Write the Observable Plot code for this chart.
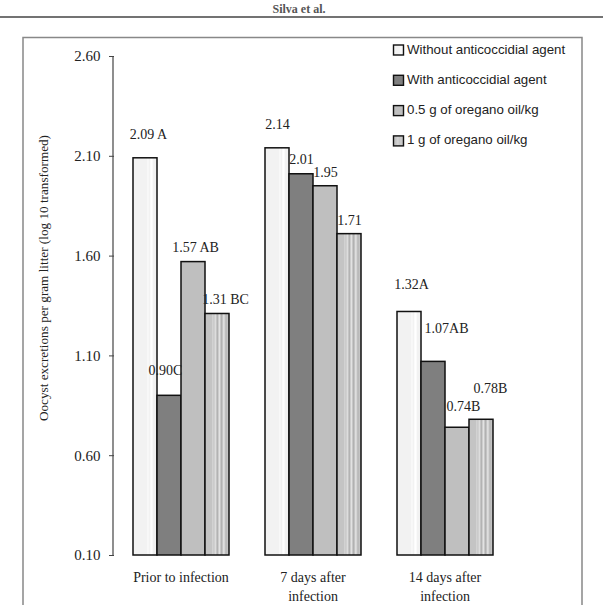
<!DOCTYPE html>
<html>
<head>
<meta charset="utf-8">
<script src="https://cdn.jsdelivr.net/npm/d3@7"></script>
<script src="https://cdn.jsdelivr.net/npm/@observablehq/plot@0.6"></script>
<style>
  body { margin: 0; background: #fff; }
  #chart { position: relative; width: 603px; height: 605px; overflow: hidden; }
  #chart > svg { position: absolute; left: 0; top: 0; }
</style>
</head>
<body>
<div id="chart">
  <svg width="0" height="0" aria-hidden="true">
    <defs>
      <pattern id="paleFill" patternUnits="objectBoundingBox" patternContentUnits="objectBoundingBox" width="1" height="1">
        <rect x="0" y="0" width="1" height="1" fill="#f2f2f2"/>
        <rect x="0.58" y="0" width="0.08" height="1" fill="#f8f8f8"/>
        <rect x="0.72" y="0" width="0.1" height="1" fill="#ffffff"/>
      </pattern>
      <pattern id="stripeFill" patternUnits="objectBoundingBox" patternContentUnits="objectBoundingBox" width="1" height="1">
        <rect x="0" y="0" width="1" height="1" fill="#c4c4c4"/>
        <rect x="0.30" y="0" width="0.05" height="1" fill="#d6d6d6"/>
        <rect x="0.40" y="0" width="0.05" height="1" fill="#e4e4e4"/>
        <rect x="0.50" y="0" width="0.03" height="1" fill="#acacac"/>
        <rect x="0.57" y="0" width="0.06" height="1" fill="#e2e2e2"/>
        <rect x="0.68" y="0" width="0.03" height="1" fill="#a8a8a8"/>
        <rect x="0.75" y="0" width="0.07" height="1" fill="#dedede"/>
        <rect x="0.86" y="0" width="0.04" height="1" fill="#b4b4b4"/>
      </pattern>
    </defs>
  </svg>
</div>
<script>
// Sampling periods (x groups) and treatments (bars within each group)
const periods = ["Prior to infection", "7 days after\ninfection", "14 days after\ninfection"];
const treatments = [
  "Without anticoccidial agent",
  "With anticoccidial agent",
  "0.5 g of oregano oil/kg",
  "1 g of oregano oil/kg"
];

// Oocysts per gram of litter (log10), one value per treatment
const priorValues = [2.09, 0.90, 1.57, 1.31];
const day7Values  = [2.14, 2.01, 1.95, 1.71];
const day14Values = [1.32, 1.07, 0.74, 0.78];

// Significance letters printed after each value
const priorLetters = [" A", "C", " AB", " BC"];
const day7Letters  = ["", "", "", ""];
const day14Letters = ["A", "AB", "B", "B"];

const yTicks = [0.10, 0.60, 1.10, 1.60, 2.10, 2.60];

// Bar fills per treatment (two of them are SVG patterns defined above)
const fills = ["url(#paleFill)", "#7f7f7f", "#bfbfbf", "url(#stripeFill)"];

// Small per-label nudges [dx, dy] for the value labels
const labelNudge = [
  [3, -24], [-4, -25], [2, -15], [8, -14],
  [0, -24], [0, -15], [0, -14], [0, -14],
  [2, -27], [13, -33], [6, -21], [9, -31]
];

const valueSets = [priorValues, day7Values, day14Values];
const letterSets = [priorLetters, day7Letters, day14Letters];
const rows = periods.flatMap((period, gi) =>
  valueSets[gi].map((value, si) => ({
    period,
    treatment: treatments[si],
    value,
    label: value.toFixed(2) + letterSets[gi][si]
  }))
);

const yFloor = yTicks[0];
const yTop = yTicks[yTicks.length - 1];
const serif = "'Liberation Serif', 'Times New Roman', serif";

const chart = Plot.plot({
  width: 603,
  height: 605,
  marginTop: 56,
  marginBottom: 50,
  marginLeft: 113,
  marginRight: 92,
  style: { fontFamily: serif, fontSize: "14px", color: "#222", background: "transparent" },
  fx: { domain: periods, paddingInner: 0.268, paddingOuter: 0.136, label: null },
  x: { domain: treatments, padding: 0, axis: null },
  y: { domain: [yFloor, yTop], axis: null },
  color: { domain: treatments, range: fills },
  marks: [
    Plot.barY(rows, {
      fx: "period", x: "treatment", y1: yFloor, y2: "value",
      fill: "treatment", stroke: "#111", strokeWidth: 1.5
    }),
    ...rows.map((r, i) =>
      Plot.text([r], {
        fx: "period", x: "treatment", y: "value", text: "label",
        dx: labelNudge[i][0], dy: labelNudge[i][1],
        fontSize: 14, fill: "#222"
      })
    ),
    Plot.axisY({
      ticks: yTicks, tickFormat: (d) => d.toFixed(2), tickSize: 5, tickPadding: 9,
      dx: -18, fontSize: 15, label: null, stroke: "#444"
    }),
    Plot.axisFx({
      anchor: "bottom", tickSize: 0, tickPadding: 14, label: null,
      fontSize: 14, lineHeight: 1.3
    })
  ]
});
document.getElementById("chart").appendChild(chart);

// Page header, chart frame, axis line, axis title and legend
const yScale = chart.scale("y");
const fxScale = chart.scale("fx");
const overlay = d3.select("#chart").append("svg")
  .attr("width", 603).attr("height", 605)
  .style("pointer-events", "none");

overlay.append("line")
  .attr("x1", fxScale.range[0]).attr("x2", fxScale.range[0])
  .attr("y1", yScale.apply(yTop)).attr("y2", yScale.apply(yFloor))
  .attr("stroke", "#444").attr("stroke-width", 1.2);

overlay.append("text")
  .attr("x", 299).attr("y", 13)
  .attr("text-anchor", "middle")
  .attr("font-family", serif).attr("font-size", 12).attr("font-weight", "bold")
  .attr("fill", "#555")
  .text("Silva et al.");
overlay.append("line")
  .attr("x1", 0).attr("x2", 603).attr("y1", 17).attr("y2", 17)
  .attr("stroke", "#444").attr("stroke-width", 1.5);

overlay.append("path")
  .attr("d", "M23,606 L23,37.5 L582,37.5 L582,606")
  .attr("fill", "none").attr("stroke", "#888").attr("stroke-width", 1.5);

overlay.append("text")
  .attr("transform", "translate(45,278) rotate(-90)")
  .attr("text-anchor", "middle").attr("dominant-baseline", "middle")
  .attr("font-family", serif).attr("font-size", 13.2).attr("fill", "#222")
  .text("Oocyst excretions per gram litter (log 10 transformed)");

const legend = overlay.append("g").attr("transform", "translate(393,50)");
treatments.forEach((t, i) => {
  const g = legend.append("g").attr("transform", `translate(0,${i * 30.3})`);
  g.append("rect")
    .attr("x", 0.5).attr("y", -5).attr("width", 10).attr("height", 10)
    .attr("fill", fills[i]).attr("stroke", "#111").attr("stroke-width", 1.4);
  g.append("text")
    .attr("x", 14).attr("y", 0).attr("dominant-baseline", "middle")
    .attr("font-family", "'Liberation Sans', Arial, sans-serif").attr("font-size", 13.3)
    .attr("fill", "#222")
    .text(t);
});
</script>
</body>
</html>
